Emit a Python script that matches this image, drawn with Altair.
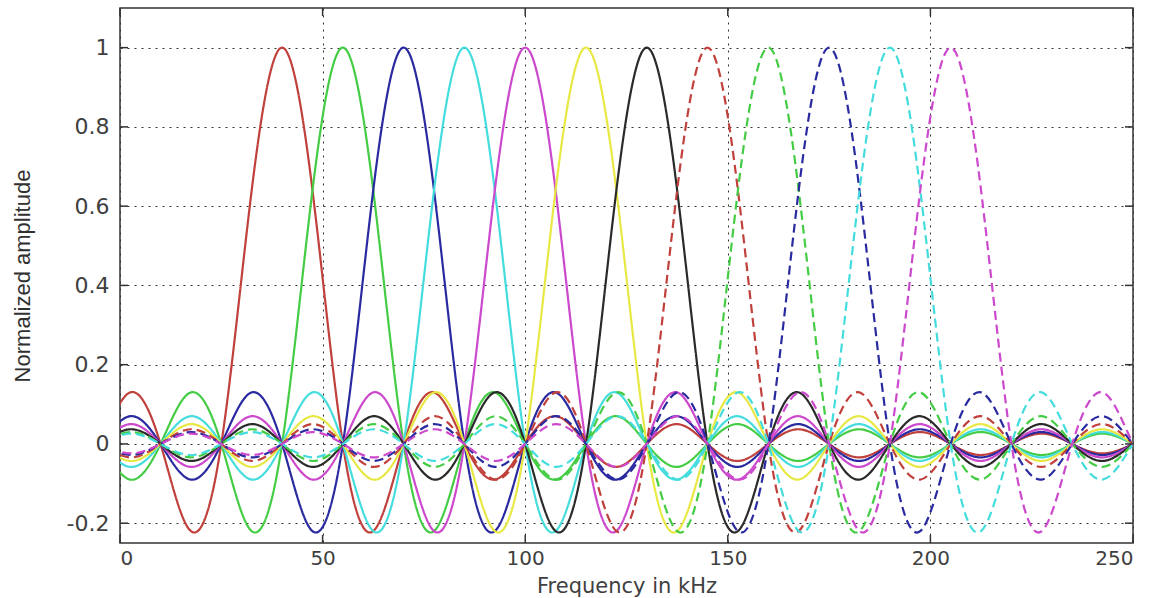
import altair as alt
import pandas as pd

# Sub-carrier centre frequencies (kHz), colours and line styles
centers = [40, 55, 70, 85, 100, 115, 130, 145, 160, 175, 190, 205]
colors = ["#c0403c", "#44cc44", "#2a2aa0", "#44dcdc", "#cc48cc", "#e8e844", "#2a2a2a",
          "#c0403c", "#44cc44", "#2a2aa0", "#44dcdc", "#cc48cc"]
styles = ["solid"] * 7 + ["dashed"] * 5

# Pulse profile read off the figure, sampled every 7.5 kHz from the carrier centre:
# main-lobe peak, main-lobe half-way value, then side-lobe peak magnitudes
step = 7.5
main_peak = 1.0
main_half = 0.64
side_lobes = [0.22, 0.13, 0.09, 0.07, 0.058, 0.05, 0.043, 0.037, 0.034, 0.03,
              0.028, 0.026, 0.024, 0.022, 0.021]

xticks = [0, 50, 100, 150, 200, 250]
yticks = [-0.2, 0, 0.2, 0.4, 0.6, 0.8, 1]


def profile_value(k):
    a = abs(k)
    if a == 0:
        return main_peak
    if a % 2 == 0:
        return 0.0
    m = (a - 1) // 2
    if m == 0:
        return main_half
    sign = -1 if m % 2 == 1 else 1
    return sign * side_lobes[m - 1]


rows = []
for i, (c, st) in enumerate(zip(centers, styles)):
    name = f"c{i + 1:02d}"
    kmin = int((-7.5 - c) // step)
    kmax = int((257.5 - c) // step) + 1
    for k in range(kmin, kmax + 1):
        f = c + k * step
        rows.append({"f": f, "amp": profile_value(k), "carrier": name, "style": st, "order": k})
df = pd.DataFrame(rows)
names = [f"c{i + 1:02d}" for i in range(len(centers))]

W, H = 1013, 535
xscale = alt.Scale(domain=[0, 250], nice=False, zero=False)
yscale = alt.Scale(domain=[-0.25, 1.1], nice=False, zero=False)

label_font = "DejaVu Sans"

xaxis = alt.Axis(values=xticks, grid=True, gridDash=[2, 5], gridColor="#333333", gridWidth=1,
                 gridOpacity=1, ticks=False, tickSize=0, domain=False,
                 labelFont=label_font, labelFontSize=20, labelColor="#404040", labelPadding=5,
                 title="Frequency in kHz", titleFont=label_font, titleFontSize=21,
                 titleFontWeight="normal", titleColor="#404040", titleY=49,
                 titleBaseline="alphabetic")
yaxis = alt.Axis(values=yticks, grid=True, gridDash=[2, 5], gridColor="#333333", gridWidth=1,
                 gridOpacity=1, ticks=False, tickSize=0, domain=False,
                 labelFont=label_font, labelFontSize=22, labelColor="#404040", labelPadding=11,
                 labelExpr="toString(datum.value)",
                 title="Normalized amplitude", titleFont="Liberation Sans", titleFontSize=22,
                 titleFontWeight="normal", titleColor="#303030", titleX=-98, titleY=H / 2,
                 titleBaseline="middle", titleAlign="center")

lines = alt.Chart(df).mark_line(strokeWidth=2.2, interpolate="natural", clip=True).encode(
    x=alt.X("f:Q", scale=xscale, axis=xaxis),
    y=alt.Y("amp:Q", scale=yscale, axis=yaxis),
    color=alt.Color("carrier:N", scale=alt.Scale(domain=names, range=colors), legend=None),
    strokeDash=alt.StrokeDash("style:N", scale=alt.Scale(domain=["solid", "dashed"],
                                                         range=[[1, 0], [9, 5]]), legend=None),
    detail="carrier:N",
    order="order:Q",
)

xt = pd.DataFrame({"t": xticks})
yt = pd.DataFrame({"t": yticks})
tick_color = "#333333"
tick_len = 8
xb = alt.Chart(xt).mark_rule(color=tick_color, strokeWidth=1.5).encode(
    x=alt.X("t:Q", scale=xscale), y=alt.value(H), y2=alt.value(H - tick_len))
xtop = alt.Chart(xt).mark_rule(color=tick_color, strokeWidth=1.5).encode(
    x=alt.X("t:Q", scale=xscale), y=alt.value(0), y2=alt.value(tick_len))
yl = alt.Chart(yt).mark_rule(color=tick_color, strokeWidth=1.5).encode(
    y=alt.Y("t:Q", scale=yscale), x=alt.value(0), x2=alt.value(tick_len))
yr = alt.Chart(yt).mark_rule(color=tick_color, strokeWidth=1.5).encode(
    y=alt.Y("t:Q", scale=yscale), x=alt.value(W), x2=alt.value(W - tick_len))

chart = alt.layer(lines, xb, xtop, yl, yr).properties(
    width=W, height=H,
    autosize=alt.AutoSizeParams(type="none"),
    padding={"left": 120, "top": 8, "right": 29, "bottom": 55},
    background="white",
).configure_view(stroke="#333333", strokeWidth=1.5)

chart.save("out.html", embed_options={"renderer": "svg", "actions": False})
